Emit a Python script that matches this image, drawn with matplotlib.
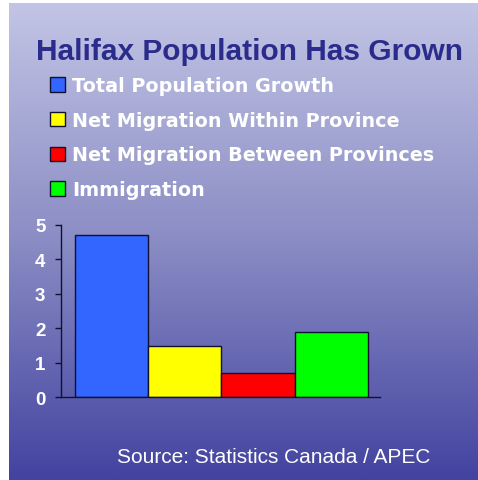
import numpy as np
import matplotlib
matplotlib.use("Agg")
import matplotlib.pyplot as plt
from matplotlib.patches import Patch
from matplotlib.colors import LinearSegmentedColormap

# Datos del gráfico
categorias = ["Total Population Growth", "Net Migration Within Province",
              "Net Migration Between Provinces", "Immigration"]
valores = [4.7, 1.5, 0.7, 1.9]
colores = ["#3366ff", "#ffff00", "#ff0000", "#00ff00"]
ticks_y = [0, 1, 2, 3, 4, 5]

plt.rcParams["font.family"] = ["Liberation Sans", "DejaVu Sans"]

fig = plt.figure(figsize=(4.78, 4.81), dpi=100, facecolor="white")

# Fondo degradado de la diapositiva
fondo = fig.add_axes([9 / 478, 0, 1 - 9 / 478, 1 - 4 / 481], zorder=-10)
cmap = LinearSegmentedColormap.from_list("slide", ["#c2c5e5", "#8a8cc4", "#4343a0"])
fondo.imshow(np.linspace(0, 1, 256).reshape(-1, 1), aspect="auto", cmap=cmap,
             extent=[0, 1, 0, 1])
fondo.axis("off")

# Título
fig.text(250 / 478, 1 - 60 / 481, "Halifax Population Has Grown", ha="center", va="baseline",
         fontsize=21.5, fontweight="bold", color="#2b2b8c")

# Gráfico de barras
ax = fig.add_axes([60.7 / 478, 1 - 398.3 / 481, (380 - 60.7) / 478, (398.3 - 226) / 481])
ax.patch.set_alpha(0)
x = np.arange(len(valores))
ax.bar(x, valores, width=1.0, color=colores, edgecolor="#101030", linewidth=1)
ax.set_xlim(-0.7, 3.67)
ax.set_ylim(0, 5)
ax.set_yticks(ticks_y)
ax.set_xticks([])
for lado in ["top", "right"]:
    ax.spines[lado].set_visible(False)
for lado in ["left", "bottom"]:
    ax.spines[lado].set_color("#101030")
    ax.spines[lado].set_linewidth(1)
ax.tick_params(axis="y", colors="#101030", length=4, width=1, pad=7, labelcolor="white",
               labelsize=13.5)
for etiqueta in ax.get_yticklabels():
    etiqueta.set_fontweight("bold")

# Leyenda
handles = [Patch(facecolor=c, edgecolor="#101030", linewidth=1) for c in colores]
fig.legend(handles, categorias, loc="upper left", bbox_to_anchor=(50 / 478, 1 - 77 / 481),
           frameon=False, prop={"family": "DejaVu Sans", "size": 13.8, "weight": "bold"},
           labelcolor="white", handlelength=0.78, handleheight=0.78, handletextpad=0.36,
           labelspacing=0.82, borderpad=0, borderaxespad=0)

# Fuente
fig.text(273.5 / 478, 1 - 463 / 481, "Source: Statistics Canada / APEC", ha="center",
         va="baseline", fontsize=15, color="white")

plt.savefig("out.png", dpi=100)
